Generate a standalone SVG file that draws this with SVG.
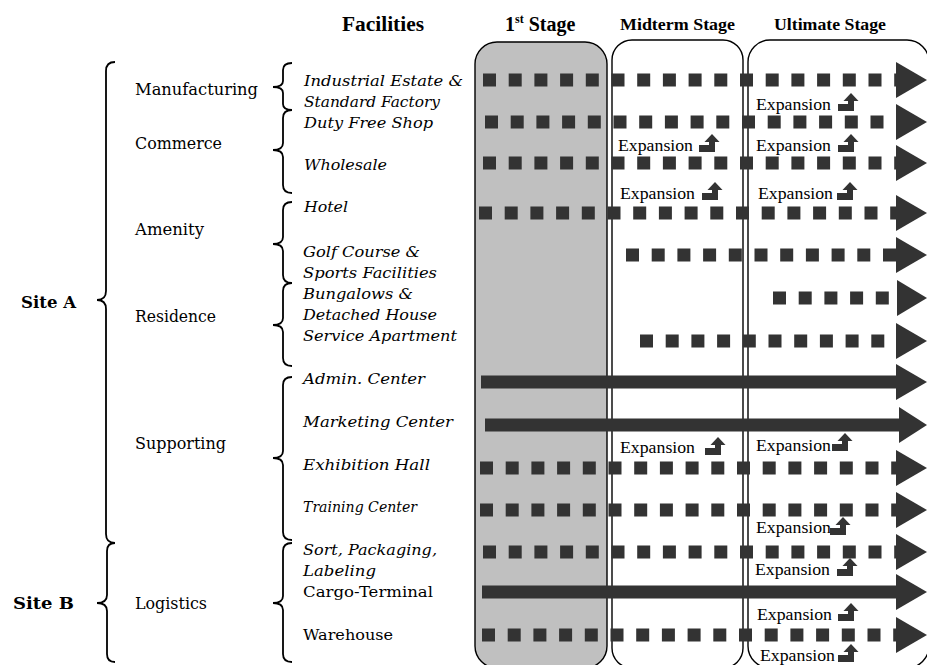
<svg xmlns="http://www.w3.org/2000/svg" xmlns:xlink="http://www.w3.org/1999/xlink" width="927" height="665" viewBox="0 0 927 665">
<style>
.hdr{font-family:"Liberation Serif","Times New Roman",serif;font-weight:bold;fill:#000}
.cat{font-family:"DejaVu Serif",serif;font-size:16px;fill:#000}
.site{font-family:"DejaVu Serif",serif;font-weight:bold;fill:#000}
.item{font-family:"DejaVu Serif",serif;font-style:italic;font-size:15.5px;fill:#000}
.itemu{font-family:"DejaVu Serif",serif;font-size:15.5px;fill:#000}
.exp{font-family:"Liberation Serif","Times New Roman",serif;font-size:17.5px;fill:#000}
.brace{fill:none;stroke:#000;stroke-width:1.8}
.box{stroke:#000;stroke-width:1.4}
.dash{stroke:#333;stroke-width:13;stroke-dasharray:13 12.7;fill:none}
.solid{stroke:#333;stroke-width:13;fill:none}
.head{fill:#333}
.icon{fill:#333}
</style>
<defs>
<path id="expIcon" d="M0,0 V-7 H10 V-10 H5.5 L13,-18 L20.5,-10 H16 V0 Z"/>
</defs>
<rect width="927" height="665" fill="#fff"/>

<g id="headers">
<text class="hdr" x="342" y="31" font-size="20" textLength="82" lengthAdjust="spacingAndGlyphs">Facilities</text>
<text class="hdr" x="505" y="31" font-size="20">1<tspan font-size="12" dy="-8">st</tspan><tspan dy="8"> Stage</tspan></text>
<text class="hdr" x="620" y="30" font-size="16" textLength="115" lengthAdjust="spacingAndGlyphs">Midterm Stage</text>
<text class="hdr" x="774" y="30" font-size="16" textLength="112" lengthAdjust="spacingAndGlyphs">Ultimate Stage</text>
</g>

<g id="stages">
<rect id="stage1" class="box" x="475" y="42" width="132" height="626" rx="22" fill="#c0c0c0"/>
<rect id="stage2" class="box" x="612" y="40" width="131" height="628" rx="20" fill="none"/>
<rect id="stage3" class="box" x="748" y="40" width="181" height="628" rx="22" fill="none"/>
</g>

<g id="braces">
<path class="brace" d="M115,62 Q106,62 106,71 L106,291 Q106,300 97,300 Q106,300 106,309 L106,534 Q106,543 115,543"/>
<path class="brace" d="M115,543 Q107,543 107,551 L107,595 Q107,603 97,603 Q107,603 107,611 L107,654 Q107,662 115,662"/>
<path class="brace" d="M292,63 Q283,63 283,70 L283,81 Q283,87 273,87 Q283,87 283,93 L283,104 Q283,110 292,110"/>
<path class="brace" d="M292,110 Q283,110 283,118 L283,143 Q283,150 273,150 Q283,150 283,157 L283,185 Q283,193 292,193"/>
<path class="brace" d="M292,202 Q283,202 283,210 L283,237 Q283,244 273,244 Q283,244 283,251 L283,275 Q283,283 292,283"/>
<path class="brace" d="M292,283 Q283,283 283,291 L283,318 Q283,325 273,325 Q283,325 283,332 L283,358 Q283,366 292,366"/>
<path class="brace" d="M292,377 Q283,377 283,385 L283,451 Q283,458 273,458 Q283,458 283,465 L283,532 Q283,540 292,540"/>
<path class="brace" d="M292,543 Q283,543 283,551 L283,596 Q283,603 273,603 Q283,603 283,610 L283,654 Q283,662 292,662"/>
</g>

<g id="sites">
<text class="site" x="21" y="308" font-size="16" textLength="55" lengthAdjust="spacingAndGlyphs">Site A</text>
<text class="site" x="13" y="609" font-size="17.5" textLength="61" lengthAdjust="spacingAndGlyphs">Site B</text>
</g>

<g id="categories">
<text class="cat" x="135" y="95" textLength="123" lengthAdjust="spacingAndGlyphs">Manufacturing</text>
<text class="cat" x="135" y="149" textLength="87" lengthAdjust="spacingAndGlyphs">Commerce</text>
<text class="cat" x="135" y="235" textLength="69" lengthAdjust="spacingAndGlyphs">Amenity</text>
<text class="cat" x="135" y="322" textLength="81" lengthAdjust="spacingAndGlyphs">Residence</text>
<text class="cat" x="135" y="449" textLength="91" lengthAdjust="spacingAndGlyphs">Supporting</text>
<text class="cat" x="135" y="609" textLength="72" lengthAdjust="spacingAndGlyphs">Logistics</text>
</g>

<g id="items">
<text class="item" x="304" y="86" textLength="159" lengthAdjust="spacingAndGlyphs">Industrial Estate &amp;</text>
<text class="item" x="304" y="107" textLength="136" lengthAdjust="spacingAndGlyphs">Standard Factory</text>
<text class="item" x="304" y="128" textLength="129" lengthAdjust="spacingAndGlyphs">Duty Free Shop</text>
<text class="item" x="304" y="170" textLength="83" lengthAdjust="spacingAndGlyphs">Wholesale</text>
<text class="item" x="304" y="212" textLength="44" lengthAdjust="spacingAndGlyphs">Hotel</text>
<text class="item" x="303" y="257" textLength="117" lengthAdjust="spacingAndGlyphs">Golf Course &amp;</text>
<text class="item" x="303" y="278" textLength="134" lengthAdjust="spacingAndGlyphs">Sports Facilities</text>
<text class="item" x="303" y="299" textLength="110" lengthAdjust="spacingAndGlyphs">Bungalows &amp;</text>
<text class="item" x="303" y="320" textLength="134" lengthAdjust="spacingAndGlyphs">Detached House</text>
<text class="item" x="303" y="341" textLength="154" lengthAdjust="spacingAndGlyphs">Service Apartment</text>
<text class="item" x="303" y="384" textLength="122" lengthAdjust="spacingAndGlyphs">Admin. Center</text>
<text class="item" x="303" y="427" textLength="150" lengthAdjust="spacingAndGlyphs">Marketing Center</text>
<text class="item" x="303" y="470" textLength="127" lengthAdjust="spacingAndGlyphs">Exhibition Hall</text>
<text class="item" x="303" y="512" font-size="14" textLength="114" lengthAdjust="spacingAndGlyphs">Training Center</text>
<text class="item" x="303" y="555" textLength="134" lengthAdjust="spacingAndGlyphs">Sort, Packaging,</text>
<text class="item" x="303" y="576" textLength="73" lengthAdjust="spacingAndGlyphs">Labeling</text>
<text class="itemu" x="303" y="597" textLength="130" lengthAdjust="spacingAndGlyphs">Cargo-Terminal</text>
<text class="itemu" x="303" y="640" textLength="90" lengthAdjust="spacingAndGlyphs">Warehouse</text>
</g>

<g id="connectors">
<line class="dash" x1="483" y1="80" x2="897" y2="80"/>
<polygon class="head" points="896,62 927,80 896,98"/>
<line class="dash" x1="485" y1="122" x2="897" y2="122"/>
<polygon class="head" points="896,104 927,122 896,140"/>
<line class="dash" x1="483" y1="163" x2="897" y2="163"/>
<polygon class="head" points="896,145 927,163 896,181"/>
<line class="dash" x1="479" y1="213" x2="897" y2="213"/>
<polygon class="head" points="896,195 927,213 896,231"/>
<line class="dash" x1="626" y1="255" x2="897" y2="255"/>
<polygon class="head" points="896,237 927,255 896,273"/>
<line class="dash" x1="773" y1="298" x2="897" y2="298"/>
<polygon class="head" points="897,280 927,298 897,316"/>
<line class="dash" x1="640" y1="341" x2="897" y2="341"/>
<polygon class="head" points="896,323 927,341 896,359"/>
<line class="solid" x1="481" y1="382" x2="900" y2="382"/>
<polygon class="head" points="896,364 927,382 896,400"/>
<line class="solid" x1="485" y1="425" x2="900" y2="425"/>
<polygon class="head" points="899,407 927,425 899,443"/>
<line class="dash" x1="480" y1="468" x2="897" y2="468"/>
<polygon class="head" points="896,450 927,468 896,486"/>
<line class="dash" x1="480" y1="510" x2="897" y2="510"/>
<polygon class="head" points="896,492 927,510 896,528"/>
<line class="dash" x1="483" y1="552" x2="897" y2="552"/>
<polygon class="head" points="896,534 927,552 896,570"/>
<line class="solid" x1="482" y1="592" x2="900" y2="592"/>
<polygon class="head" points="896,574 927,592 896,610"/>
<line class="dash" x1="482" y1="635" x2="897" y2="635"/>
<polygon class="head" points="896,617 927,635 896,653"/>
</g>

<g id="expansions">
<g id="exp1"><text class="exp" x="756" y="110" textLength="75" lengthAdjust="spacingAndGlyphs">Expansion</text><use href="#expIcon" class="icon" x="838" y="111"/></g>
<g id="exp2"><text class="exp" x="618" y="151" textLength="75" lengthAdjust="spacingAndGlyphs">Expansion</text><use href="#expIcon" class="icon" x="699" y="152"/></g>
<g id="exp3"><text class="exp" x="756" y="151" textLength="75" lengthAdjust="spacingAndGlyphs">Expansion</text><use href="#expIcon" class="icon" x="838" y="152"/></g>
<g id="exp4"><text class="exp" x="620" y="199" textLength="75" lengthAdjust="spacingAndGlyphs">Expansion</text><use href="#expIcon" class="icon" x="702" y="200"/></g>
<g id="exp5"><text class="exp" x="758" y="199" textLength="75" lengthAdjust="spacingAndGlyphs">Expansion</text><use href="#expIcon" class="icon" x="837" y="200"/></g>
<g id="exp6"><text class="exp" x="620" y="453" textLength="75" lengthAdjust="spacingAndGlyphs">Expansion</text><use href="#expIcon" class="icon" x="705" y="455"/></g>
<g id="exp7"><text class="exp" x="756" y="451" textLength="75" lengthAdjust="spacingAndGlyphs">Expansion</text><use href="#expIcon" class="icon" x="832" y="451"/></g>
<g id="exp8"><text class="exp" x="756" y="533" textLength="75" lengthAdjust="spacingAndGlyphs">Expansion</text><use href="#expIcon" class="icon" x="830" y="535"/></g>
<g id="exp9"><text class="exp" x="755" y="575" textLength="75" lengthAdjust="spacingAndGlyphs">Expansion</text><use href="#expIcon" class="icon" x="837" y="576"/></g>
<g id="exp10"><text class="exp" x="757" y="620" textLength="75" lengthAdjust="spacingAndGlyphs">Expansion</text><use href="#expIcon" class="icon" x="838" y="621"/></g>
<g id="exp11"><text class="exp" x="760" y="661" textLength="75" lengthAdjust="spacingAndGlyphs">Expansion</text><use href="#expIcon" class="icon" x="838" y="662"/></g>
</g>
</svg>
